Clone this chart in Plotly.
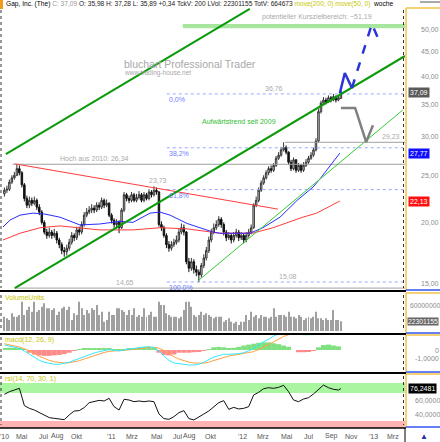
import math
import pandas as pd
import plotly.graph_objects as go

W, H = 440, 442

# ---------------- data ----------------
week_start = "2010-03-05"
closes = [23.3,23.4,24.2,24.7,25.0,25.8,25.3,23.9,22.4,21.7,
          22.2,21.9,22.2,21.5,21.0,20.0,19.1,18.8,19.1,18.8,
          19.0,18.4,18.0,17.5,17.4,17.7,18.2,18.8,18.6,19.3,
          19.1,19.8,20.7,21.0,21.2,21.4,21.2,21.7,21.5,22.2,
          21.7,21.9,20.7,20.2,19.8,20.0,19.5,21.2,22.8,22.4,
          22.2,22.8,22.2,22.5,22.8,22.2,22.8,22.4,23.1,22.8,
          23.3,23.1,19.8,19.5,18.8,18.0,17.7,18.0,18.2,18.4,
          19.1,19.5,19.1,16.6,16.1,16.6,16.0,15.8,15.6,16.3,
          16.9,17.5,18.4,19.1,19.5,19.8,20.3,19.8,19.1,18.6,
          18.8,18.4,18.8,19.1,18.6,18.8,18.4,18.8,19.1,19.5,
          21.7,22.2,23.3,24.1,24.7,25.3,25.8,25.6,26.2,27.1,
          27.5,28.2,28.5,27.9,26.6,25.8,26.9,25.6,26.2,25.6,
          26.2,26.6,27.1,27.5,28.2,29.4,33.8,35.2,35.7,35.4,
          36.1,35.7,36.3,35.7,36.1,37.09]
highs = [23.6,23.8,24.5,25.0,25.4,26.34,26.2,25.5,24.1,22.7,
         22.6,22.5,22.6,22.4,21.8,21.2,20.2,19.4,19.5,19.3,
         19.4,19.2,18.6,18.2,17.8,18.0,18.5,19.1,19.0,19.6,
         19.6,20.1,21.0,21.4,21.6,21.8,21.7,22.0,22.0,22.5,
         22.4,22.3,22.0,20.9,20.4,20.3,20.2,21.4,23.1,23.0,
         22.7,23.1,23.0,22.9,23.2,23.0,23.1,23.0,23.4,23.3,
         23.73,23.6,23.2,20.1,19.7,19.0,18.3,18.3,18.5,18.8,
         19.4,19.9,19.8,19.2,16.9,16.9,16.8,16.3,16.0,16.5,
         17.2,17.8,18.7,19.4,19.9,20.2,20.6,20.5,20.0,19.3,
         19.1,19.0,19.1,19.4,19.3,19.1,19.0,19.1,19.4,19.8,
         21.9,22.6,23.6,24.4,25.0,25.6,26.1,26.2,26.5,27.4,
         27.9,28.6,29.23,28.8,28.0,26.9,27.2,27.0,26.5,26.4,
         26.6,27.0,27.4,27.9,28.5,29.8,34.2,35.6,36.2,36.1,
         36.5,36.4,36.76,36.5,36.5,37.28]
lows = [22.6,23.0,23.2,24.0,24.5,24.9,25.0,23.6,22.1,21.4,
        21.4,21.6,21.7,21.2,20.7,19.8,18.9,18.5,18.6,18.5,
        18.6,18.1,17.7,17.2,17.0,17.1,17.5,18.0,18.3,18.4,
        18.8,18.9,19.6,20.5,20.8,20.9,20.9,21.0,21.2,21.3,
        21.4,21.5,20.5,19.9,19.5,19.5,19.0,19.4,21.0,22.1,
        21.9,22.0,22.0,22.0,22.3,22.0,22.0,22.2,22.2,22.5,
        22.6,22.8,19.6,19.2,18.6,17.7,17.4,17.5,17.8,18.0,
        18.2,18.9,18.8,16.4,15.8,15.9,15.7,15.5,15.08,15.4,
        16.1,16.7,17.3,18.2,18.9,19.3,19.6,19.5,18.8,18.3,
        18.4,18.1,18.2,18.6,18.3,18.4,18.1,18.2,18.6,18.9,
        19.4,21.5,22.0,23.1,23.9,24.5,25.0,25.3,25.4,26.0,
        26.9,27.3,28.0,27.6,26.3,25.5,25.6,25.3,25.4,25.3,
        25.4,26.0,26.4,26.9,27.3,28.0,29.2,33.5,35.0,35.0,
        35.2,35.3,35.5,35.3,35.5,35.89]
first_open = 22.9
last_open = 35.98
volume_mio = [33.1,29.2,25.4,40.8,33.1,33.1,36.9,67.7,36.9,48.4,
              56.1,44.6,67.7,44.6,48.4,56.1,63.8,52.3,52.3,48.4,
              52.3,36.9,44.6,52.3,56.1,48.4,56.1,25.4,40.8,36.9,
              67.7,52.3,36.9,48.4,40.8,52.3,48.4,60.0,36.9,44.6,
              21.5,25.4,44.6,36.9,36.9,52.3,52.3,48.4,44.6,36.9,
              48.4,36.9,52.3,33.1,36.9,33.1,52.3,33.1,36.9,44.6,
              33.1,33.1,67.7,60.0,60.0,40.8,36.9,33.1,33.1,33.1,
              29.2,33.1,48.4,67.7,67.7,56.1,36.9,33.1,36.9,44.6,
              36.9,40.8,36.9,33.1,29.2,33.1,33.1,33.1,21.5,25.4,
              29.2,21.5,17.7,21.5,13.8,21.5,21.5,36.9,25.4,44.6,
              33.1,36.9,29.2,36.9,33.1,33.1,29.2,33.1,52.3,33.1,
              36.9,36.9,36.9,33.1,44.6,33.1,33.1,29.2,36.9,33.1,
              25.4,29.2,33.1,29.2,33.1,44.6,29.2,29.2,25.4,29.2,
              25.4,25.4,48.4,25.4,25.4,22.3]

# bi-weekly indicator readings
macd_line = [0.56,0.44,0.33,0.19,-0.11,-0.48,-0.85,-1.15,-1.37,-1.52,
             -1.59,-1.59,-1.52,-1.37,-1.15,-0.93,-0.70,-0.48,-0.33,-0.19,
             -0.04,0.04,-0.04,-0.11,0.00,0.11,0.19,0.26,0.33,0.37,
             0.26,-0.11,-0.67,-1.15,-1.44,-1.52,-1.59,-1.67,-1.67,-1.59,
             -1.37,-1.07,-0.78,-0.63,-0.48,-0.48,-0.48,-0.41,-0.30,-0.11,
             0.19,0.56,0.93,1.19,1.55,1.80,2.00,2.10,2.00,1.80,
             1.70,1.70,1.80,2.10,2.50,2.80,3.00,3.10]
macd_signal = [0.70,0.60,0.48,0.33,0.15,-0.10,-0.40,-0.70,-0.95,-1.15,
               -1.30,-1.40,-1.45,-1.42,-1.33,-1.20,-1.00,-0.80,-0.60,-0.42,
               -0.28,-0.15,-0.08,-0.06,-0.04,0.00,0.07,0.15,0.22,0.28,
               0.30,0.20,-0.05,-0.40,-0.75,-1.00,-1.20,-1.35,-1.45,-1.50,
               -1.47,-1.35,-1.17,-0.98,-0.80,-0.67,-0.58,-0.50,-0.42,-0.33,
               -0.18,0.05,0.30,0.60,0.90,1.20,1.50,1.70,1.90,1.95,
               1.90,1.85,1.85,1.90,2.10,2.40,2.65,2.85]
macd_hist = [0.20,0.25,0.25,0.20,0.05,-0.30,-0.50,-0.60,-0.65,-0.65,
             -0.60,-0.55,-0.45,-0.30,-0.10,0.10,0.20,0.20,0.20,0.20,
             0.15,0.15,0.05,0.05,0.10,0.20,0.20,0.25,0.30,0.30,
             0.20,-0.30,-0.55,-0.60,-0.50,-0.30,-0.30,-0.30,-0.25,-0.20,
             -0.10,0.10,0.30,0.35,0.30,0.20,0.25,0.35,0.50,0.60,
             0.70,0.80,0.85,0.85,0.75,0.65,0.50,0.35,0.00,-0.25,
             -0.25,-0.20,-0.05,0.30,0.55,0.60,0.50,0.40]
rsi_vals = [68.1,71.9,74.3,76.7,52.0,48.1,45.7,41.9,37.6,34.8,
            33.8,32.9,31.9,38.6,44.3,44.8,49.1,56.2,58.1,59.5,
            58.6,62.4,50.5,45.7,61.0,60.0,57.6,58.6,57.6,58.6,
            57.6,40.0,33.4,32.4,36.2,41.9,44.8,33.4,31.5,35.3,
            40.0,44.3,50.5,56.2,59.1,46.7,49.5,47.2,48.1,50.5,
            67.2,71.0,76.2,77.6,76.7,78.1,81.0,71.9,60.0,57.6,
            61.4,63.3,68.6,75.7,81.4,77.6,75.3,74.3]
rsi_last = 76.2481

ma50_dates = ["2010-03-01","2010-03-21","2010-04-18","2010-05-24","2010-06-27","2010-08-08",
              "2010-10-03","2010-11-28","2011-01-23","2011-03-01","2011-04-18","2011-05-16",
              "2011-06-13","2011-07-31","2011-09-05","2011-10-12","2011-10-31","2012-01-24",
              "2012-02-29","2012-04-17","2012-06-04","2012-07-19","2012-08-07","2012-10-02"]
ma50_vals = [19.57,20.23,20.7,20.9,20.8,20.5,19.76,19.85,20.1,20.0,20.9,21.0,
             20.7,19.9,19.5,19.1,19.0,19.0,19.5,20.5,22.2,23.65,24.56,27.77]
ma200_dates = ["2010-03-01","2010-04-18","2010-06-13","2010-08-08","2010-11-28","2011-03-01",
               "2011-05-16","2011-07-31","2011-10-31","2012-01-31","2012-03-28","2012-06-20",
               "2012-07-29","2012-10-02"]
ma200_vals = [18.4,19.0,19.5,19.67,19.3,19.3,19.5,19.4,19.0,19.0,19.5,20.5,20.9,22.13]

chan_up_d, chan_up_v = ["2010-03-09", "2012-01-23"], [27.65, 55.0]
chan_lo_d, chan_lo_v = ["2010-04-03", "2013-04-03"], [14.65, 44.0]
trend09_d, trend09_v = ["2011-08-30", "2013-03-28"], [15.15, 34.07]
red_dn_d, red_dn_v = ["2010-04-03", "2012-04-11"], [26.4, 21.3]
fc_blue_d, fc_blue_v = ["2012-10-02", "2012-10-16", "2012-11-05"], [36.9, 40.6, 37.8]
fc_blue2_d, fc_blue2_v = ["2012-11-05", "2012-12-31", "2013-01-17"], [37.8, 51.2, 47.9]
fc_gray_d, fc_gray_v = ["2012-10-05", "2012-11-14", "2012-12-15", "2013-01-03"], [34.4, 34.4, 29.27, 31.7]
target_lo, target_hi, target_start = 50.2, 51.2, "2011-07-19"
fib_levels = [36.76, 28.48, 23.36, 15.08]
fib_names = ["0,0%", "38,2%", "61,8%", "100,0%"]
fib_start = "2011-06-04"
x_end = "2013-04-03"
x_begin = "2010-03-01"

xtick_text = ["'10","Mai","Jul","Aug","Okt","'11","Mrz","Mai","Jul","Aug","Okt","'12","Mrz","Mai","Jul","Sep","Nov","'13","Mrz"]
xtick_px = [4, 22, 43, 57, 76, 112, 132, 157, 177, 189, 210, 242, 263, 287, 308, 331, 351, 373, 393]
price_ticks = [50, 45, 40, 35, 30, 25, 20, 15]

# ---------------- helpers ----------------
def py(px):
    return 1 - px / H

def pxx(px):
    return px / W

dates = pd.date_range(week_start, periods=len(closes), freq="7D")
opens = [first_open] + closes[:-1]
opens[-1] = last_open
bi_dates = dates[::2]
lg = math.log10

FONT = "Liberation Sans, Arial, sans-serif"
fig = go.Figure()

def line(xs, ys, color, width=1, dash="solid", ax="y"):
    fig.add_trace(go.Scatter(x=xs, y=ys, mode="lines", line=dict(color=color, width=width, dash=dash),
                             xaxis="x" if ax == "y" else "x" + ax[1:], yaxis=ax,
                             hoverinfo="skip", showlegend=False))

# target band
fig.add_trace(go.Scatter(x=[target_start, x_end, x_end, target_start, target_start],
                         y=[target_lo, target_lo, target_hi, target_hi, target_lo],
                         fill="toself", fillcolor="#a8e6a0", line=dict(width=0),
                         mode="lines", hoverinfo="skip", showlegend=False))
# horizontal levels
line(["2010-03-28", x_end], [26.34, 26.34], "#a0a0a0")
line(["2010-04-03", x_end], [14.65, 14.65], "#a0a0a0")
line(["2012-05-01", x_end], [29.23, 29.23], "#a0a0a0")
for lv in fib_levels:
    line([fib_start, x_end], [lv, lv], "#9aa6ff", 1, "dot")
# moving averages
line(ma200_dates, ma200_vals, "#ff3b3b", 1)
line(ma50_dates, ma50_vals, "#2b2bff", 1)
# trend lines
line(red_dn_d, red_dn_v, "#ff3b3b", 1)
line(trend09_d, trend09_v, "#33cc33", 1)
line(chan_up_d, chan_up_v, "#0a9a0a", 2)
line(chan_lo_d, chan_lo_v, "#0a9a0a", 2)

fig.add_trace(go.Candlestick(x=dates, open=opens, high=highs, low=lows, close=closes,
                             increasing=dict(line=dict(color="#333333", width=1), fillcolor="#d8d8d8"),
                             decreasing=dict(line=dict(color="#111111", width=1), fillcolor="#111111"),
                             whiskerwidth=0, xaxis="x", yaxis="y", showlegend=False, hoverinfo="skip"))
# forecast paths
line(fc_gray_d, fc_gray_v, "#808080", 2.5)
line(fc_blue_d, fc_blue_v, "#2b35d8", 2.5)
line(fc_blue2_d, fc_blue2_v, "#2b35d8", 2.5, "dash")

# volume
fig.add_trace(go.Bar(x=dates, y=volume_mio, width=2.8 * 86400000, marker=dict(color="#a0a0a0", line=dict(width=0)),
                     xaxis="x2", yaxis="y2", hoverinfo="skip", showlegend=False))
# macd
pos = [h if h > 0 else 0 for h in macd_hist]
neg = [h if h < 0 else 0 for h in macd_hist]
fig.add_trace(go.Bar(x=bi_dates, y=pos, width=14 * 86400000, marker=dict(color="#7ee07e", line=dict(width=0)),
                     xaxis="x3", yaxis="y3", hoverinfo="skip", showlegend=False))
fig.add_trace(go.Bar(x=bi_dates, y=neg, width=14 * 86400000, marker=dict(color="#ff8a8a", line=dict(width=0)),
                     xaxis="x3", yaxis="y3", hoverinfo="skip", showlegend=False))
line(list(bi_dates), macd_signal, "#ffa040", 1, ax="y3")
line(list(bi_dates), macd_line, "#33e8ff", 1, ax="y3")
# rsi
line(list(bi_dates) + [dates[-1]], rsi_vals + [rsi_last], "#111111", 1, ax="y4")

# ---------------- layout ----------------
dom_main = [py(291), py(8)]
dom_vol = [py(334), py(292)]
dom_macd = [py(373), py(334)]
dom_rsi = [py(428), py(373)]
xd = [pxx(3), pxx(405)]
yrange_main = [lg(50) - (291 - 29) / 486, lg(50) + (29 - 8) / 486]

xcommon = dict(domain=xd, range=[x_begin, x_end], visible=False, showgrid=False)
fig.update_layout(
    width=W, height=H, margin=dict(l=0, r=0, t=0, b=0),
    paper_bgcolor="white", plot_bgcolor="white", showlegend=False, barmode="overlay",
    boxgap=0.15,
    font=dict(family=FONT, size=7, color="#888888"),
    xaxis=dict(**xcommon, anchor="y", rangeslider=dict(visible=False)),
    xaxis2=dict(**xcommon, anchor="y2", matches="x"),
    xaxis3=dict(**xcommon, anchor="y3", matches="x"),
    xaxis4=dict(**xcommon, anchor="y4", matches="x"),
    yaxis=dict(domain=dom_main, type="log", range=yrange_main, visible=False),
    yaxis2=dict(domain=dom_vol, range=[-6.9, 90], visible=False),
    yaxis3=dict(domain=dom_macd, range=[-2.56, 1.78], visible=False),
    yaxis4=dict(domain=dom_rsi, range=[20, 98.6], visible=False),
)

shapes = []
# rsi bands
shapes.append(dict(type="rect", xref="paper", yref="y4", x0=pxx(0), x1=pxx(405), y0=70, y1=84.3,
                   fillcolor="#a9f5a0", line=dict(width=0), layer="below"))
shapes.append(dict(type="rect", xref="paper", yref="y4", x0=pxx(0), x1=pxx(405), y0=20, y1=30,
                   fillcolor="#ffb3b3", line=dict(width=0), layer="below"))
# separators
for yy, wdt in [(291, 2), (334, 2), (373, 2), (428, 1.5)]:
    shapes.append(dict(type="line", xref="paper", yref="paper", x0=0, x1=pxx(406), y0=py(yy), y1=py(yy),
                       line=dict(color="#000000", width=wdt)))
# right axis boxes
for top, bot in [(8, 290), (293, 333), (335, 372), (374, 427)]:
    shapes.append(dict(type="line", xref="paper", yref="paper", x0=pxx(406), x1=pxx(406), y0=py(top), y1=py(bot),
                       line=dict(color="#f2c24a", width=1.5)))
    shapes.append(dict(type="line", xref="paper", yref="paper", x0=pxx(406), x1=1, y0=py(top), y1=py(top),
                       line=dict(color="#f2c24a", width=1.5)))
    shapes.append(dict(type="line", xref="paper", yref="paper", x0=pxx(406), x1=1, y0=py(bot), y1=py(bot),
                       line=dict(color="#3355ee", width=1.5)))
    shapes.append(dict(type="line", xref="paper", yref="paper", x0=pxx(403.5), x1=pxx(403.5), y0=py(top + 2), y1=py(bot - 2),
                       line=dict(color="#333333", width=1, dash="dot")))
    shapes.append(dict(type="line", xref="paper", yref="paper", x0=pxx(1), x1=pxx(1), y0=py(top + 2), y1=py(bot - 2),
                       line=dict(color="#333333", width=1, dash="dot")))
shapes.append(dict(type="line", xref="paper", yref="paper", x0=pxx(405), x1=pxx(405), y0=py(428), y1=0,
                   line=dict(color="#000000", width=1)))
shapes.append(dict(type="rect", xref="paper", yref="paper", x0=0, x1=pxx(3), y0=py(9), y1=1,
                   fillcolor="#f29a1a", line=dict(width=0)))
shapes.append(dict(type="rect", xref="paper", yref="paper", x0=pxx(420), x1=1, y0=py(3), y1=py(1),
                   fillcolor="#aaaaaa", line=dict(width=0)))
fig.update_layout(shapes=shapes)

ann = []
def txt(text, x, y, xref="paper", yref="paper", size=7, color="#888888", xanchor="left", yanchor="middle", **kw):
    ann.append(dict(text=text, x=x, y=y, xref=xref, yref=yref, showarrow=False, xanchor=xanchor, yanchor=yanchor,
                    font=dict(family=FONT, size=size, color=color), **kw))

title = ('<span style="color:#000000">Gap, Inc. (The)</span> <span style="color:#999999">C: 37,09</span> '
         '<span style="color:#222222">O: 35,98 H: 37,28 L: 35,89 +0,34 TckV: 200 LVol: 22301155 TotV: 664673</span> '
         '<span style="color:#c8c800">move(200, 0) move(50, 0)</span>  <span style="color:#000000">woche</span>')
txt(title, pxx(4), py(4.5), size=6.6)
txt("bluchart Professional Trader", pxx(122), py(64), size=10.5, color="#a8a8a8")
txt("www.trading-house.net", pxx(122), py(73.5), size=6.5, color="#a8a8a8")
txt("VolumeUnits", pxx(3), py(297.5), color="#c8c800")
txt("macd(12, 26, 9)", pxx(3), py(339.5), color="#c8c800")
txt("rsi(14, 70, 30, 1)", pxx(3), py(379), color="#c8c800")

# level labels on main chart
txt("potentieller Kurszielbereich: ~51,19", "2012-07-29", lg(52.9), "x", "y", size=7, color="#aaaaaa", xanchor="center")
txt("36,76", "2012-03-31", lg(36.76), "x", "y", color="#aaaaaa", xanchor="center", yanchor="bottom")
txt("29,23", "2013-02-23", lg(29.23), "x", "y", color="#aaaaaa", xanchor="center", yanchor="bottom")
txt("Hoch aus 2010: 26,34", "2010-11-14", lg(26.34), "x", "y", color="#aaaaaa", xanchor="center", yanchor="bottom")
txt("23,73", "2011-05-10", lg(23.73), "x", "y", color="#aaaaaa", xanchor="center", yanchor="bottom")
txt("14,65", "2011-02-06", lg(14.65), "x", "y", color="#aaaaaa", xanchor="center", yanchor="bottom")
txt("15,08", "2012-05-09", lg(15.08), "x", "y", color="#aaaaaa", xanchor="center", yanchor="bottom")
for lv, nm in zip(fib_levels, fib_names):
    txt(nm, fib_start, lg(lv), "x", "y", color="#6f7dff", xanchor="left", yanchor="top")
txt("Aufwärtstrend seit 2009", "2011-09-05", lg(32.2), "x", "y", color="#33bb33", xanchor="left")

# right axis labels
for v in price_ticks:
    txt(f"{v},00", pxx(419), lg(v), yref="y", size=7, color="#8c8c8c")
box = dict(borderpad=1)
txt("37,09", pxx(407.5), lg(37.09), yref="y", size=7, color="#ffffff", bgcolor="#5a5a5a", **box)
txt("27,77", pxx(407.5), lg(27.77), yref="y", size=7, color="#ffffff", bgcolor="#1010ff", **box)
txt("22,13", pxx(407.5), lg(22.13), yref="y", size=7, color="#ffffff", bgcolor="#ff1010", **box)
txt("60000000", pxx(408), 60, yref="y2", size=6.8, color="#8c8c8c")
txt("22301155", pxx(407), 22.3, yref="y2", size=6.8, color="#ffffff", bgcolor="#666666", borderpad=0)
txt("0", pxx(433), 0, yref="y3", size=7, color="#8c8c8c")
txt("-1,0000", pxx(413), -1, yref="y3", size=7, color="#8c8c8c")
txt("76,2481", pxx(407.5), rsi_last, yref="y4", size=7, color="#ffffff", bgcolor="#000000", **box)
txt("60,0000", pxx(413), 60, yref="y4", size=7, color="#8c8c8c")
txt("40,0000", pxx(413), 40, yref="y4", size=7, color="#8c8c8c")

# x labels (bottom date row)
for xp, t in zip(xtick_px, xtick_text):
    txt(t, pxx(xp), py(436), size=7, color="#555555", xanchor="center")
txt("▲", pxx(424), py(436), size=8, color="#2233aa", xanchor="center")

fig.update_layout(annotations=ann)
fig.write_html("out.html")
